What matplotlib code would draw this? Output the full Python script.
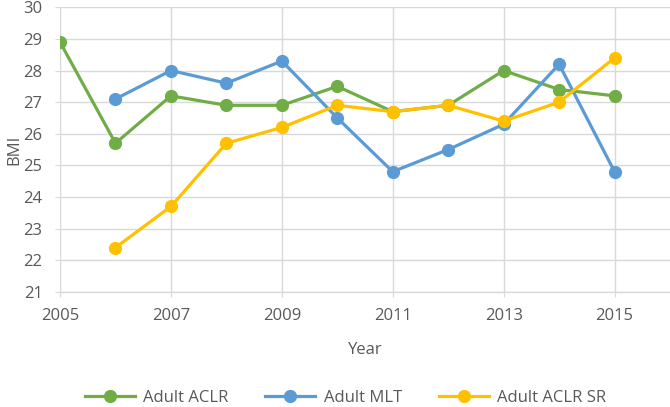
import numpy as np
import matplotlib
matplotlib.use('Agg')
from matplotlib import pyplot as plt

plt.rcParams['font.family'] = ['Open Sans', 'DejaVu Sans']

years = [2005, 2006, 2007, 2008, 2009, 2010, 2011, 2012, 2013, 2014, 2015]
aclr = [28.9, 25.7, 27.2, 26.9, 26.9, 27.5, 26.7, 26.9, 28.0, 27.4, 27.2]
mlt = [np.nan, 27.1, 28.0, 27.6, 28.3, 26.5, 24.8, 25.5, 26.3, 28.2, 24.8]
aclr_sr = [np.nan, 22.4, 23.7, 25.7, 26.2, 26.9, 26.7, 26.9, 26.4, 27.0, 28.4]
xticks = [2005, 2007, 2009, 2011, 2013, 2015]
yticks = list(range(21, 31))

text_col = '#595959'
grid_col = '#D9D9D9'

fig = plt.figure(figsize=(6.7, 4.07), dpi=100)
ax = fig.add_axes([0.0896, 0.283, 0.9104, 0.699])

series = [('Adult ACLR', aclr, '#70AD47'),
          ('Adult MLT', mlt, '#5B9BD5'),
          ('Adult ACLR SR', aclr_sr, '#FFC000')]
for name, vals, col in series:
    ax.plot(years, vals, color=col, lw=2.3, marker='o', ms=8.5, label=name)

ax.set_xlim(2005, 2016)
ax.set_ylim(21, 30)
ax.set_xticks(xticks)
ax.set_yticks(yticks)
ax.grid(True, color=grid_col, lw=1)
ax.set_axisbelow(True)
for s in ['top', 'right', 'left']:
    ax.spines[s].set_visible(False)
ax.spines['bottom'].set_color(grid_col)
ax.spines['bottom'].set_linewidth(1)
ax.tick_params(axis='x', colors=text_col, labelsize=12, length=3.6, color=grid_col, pad=8)
ax.tick_params(axis='y', colors=text_col, labelsize=12, length=3.6, color=grid_col, pad=9)
ax.set_xlabel('Year', color=text_col, fontsize=12, labelpad=13)
ax.set_ylabel('BMI', color=text_col, fontsize=12, labelpad=1)

ax.legend(loc='center', bbox_to_anchor=(0.468, -0.372), ncol=3, frameon=False,
          fontsize=12, labelcolor=text_col, columnspacing=2.2, handlelength=3.0,
          handletextpad=0.5, borderpad=0.2)

fig.savefig('out.png', dpi=100)
